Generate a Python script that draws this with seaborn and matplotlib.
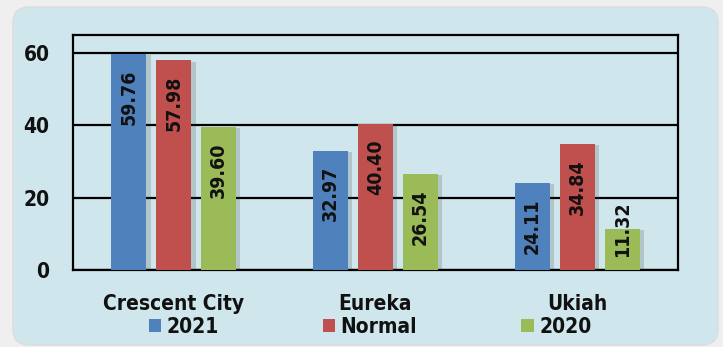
import matplotlib
matplotlib.use("Agg")
import matplotlib.pyplot as plt
import matplotlib.patheffects as pe
from matplotlib.patches import FancyBboxPatch, Patch
import seaborn as sns
import pandas as pd

cities = ["Crescent City", "Eureka", "Ukiah"]
series = ["2021", "Normal", "2020"]
v2021 = [59.76, 32.97, 24.11]
v_normal = [57.98, 40.40, 34.84]
v2020 = [39.60, 26.54, 11.32]
colors = ["#4f81bd", "#c0504d", "#9bbb59"]
yticks = [0, 20, 40, 60]

sns.set_theme(style="white")
plt.rcParams["font.family"] = ["DejaVu Sans"]
plt.rcParams["font.stretch"] = "condensed"
plt.rcParams["font.weight"] = "bold"

df = pd.DataFrame({
    "city": cities * 3,
    "series": [series[0]] * 3 + [series[1]] * 3 + [series[2]] * 3,
    "value": v2021 + v_normal + v2020,
})

fig = plt.figure(figsize=(7.23, 3.47), dpi=100)
fig.patch.set_facecolor("#efefef")
panel = FancyBboxPatch((0.13, 0.02), 7.05, 3.38,
                       boxstyle="round,pad=0,rounding_size=0.16",
                       transform=fig.dpi_scale_trans,
                       facecolor="#cfe7ec", edgecolor="#dcdcdc", lw=1.0, zorder=-10)
fig.add_artist(panel)

ax = fig.add_axes([73 / 723, 1 - 270 / 347, 605 / 723, 235 / 347])
ax.set_zorder(5)
ax.set_facecolor("none")

sns.barplot(data=df, x="city", y="value", hue="series", order=cities,
            hue_order=series, palette=colors, width=0.668, gap=0.22,
            saturation=1, ax=ax, zorder=3, legend=False)

for cont in ax.containers:
    for p in cont:
        p.set_linewidth(0)
        p.set_path_effects([pe.SimplePatchShadow(offset=(3, -1), alpha=0.18,
                                                 shadow_rgbFace="#333333"),
                            pe.Normal()])

ax.set_ylim(0, 65)
ax.set_xlim(-0.5, 2.5)
ax.set_yticks(yticks)
ax.yaxis.grid(True, color="black", lw=1.6, zorder=1)
ax.set_axisbelow(True)
for s in ax.spines.values():
    s.set_visible(True)
    s.set_color("black")
    s.set_linewidth(1.6)
ax.tick_params(axis="y", length=0, pad=17, labelsize=15)
ax.tick_params(axis="x", length=0, pad=17, labelsize=15)
for t in ax.get_yticklabels() + ax.get_xticklabels():
    t.set_fontweight("bold")
    t.set_fontstretch("condensed")
    t.set_color("#111111")
ax.set_xlabel("")
ax.set_ylabel("")

# value labels inside bars
px_per_unit = 235 / 65
for cont in ax.containers:
    for bar in cont:
        h = bar.get_height()
        xc = bar.get_x() + bar.get_width() / 2
        bar_px = h * px_per_unit
        off = -43 if bar_px > 60 else 0
        ax.annotate(f"{h:.2f}", xy=(xc, h), xytext=(0, off),
                    textcoords="offset pixels", rotation=90,
                    ha="center", va="center", fontsize=14,
                    fontweight="bold", fontstretch="condensed",
                    color="#111111", zorder=5)

handles = [Patch(facecolor=c, edgecolor="none") for c in colors]
leg = ax.legend(handles, series, loc="center", bbox_to_anchor=(370 / 723, 0.058),
                bbox_transform=fig.transFigure, ncol=3, frameon=False,
                handlelength=0.6, handleheight=0.6, handletextpad=0.25,
                columnspacing=5.0, borderpad=0,
                prop={"size": 15, "weight": "bold", "stretch": "condensed"})
for t in leg.get_texts():
    t.set_color("#111111")

fig.savefig("out.png", dpi=100, facecolor=fig.get_facecolor())
